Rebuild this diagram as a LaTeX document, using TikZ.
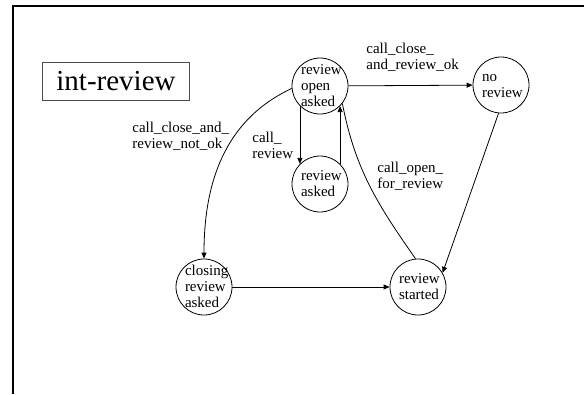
\documentclass[tikz,border=0pt]{standalone}
\usepackage{fontspec}
\setmainfont{Liberation Serif}
\usetikzlibrary{arrows.meta}
\newcommand{\statelbl}[1]{\makebox[0pt][l]{\hspace*{-19bp}\raisebox{-5bp}[0pt][0pt]{\begin{tabular}[c]{@{}l@{}}#1\end{tabular}}}}
\begin{document}
\begin{tikzpicture}[x=1bp,y=1bp,color=black,every path/.append style={line width=0.8bp},
  state/.style={draw,circle,inner sep=0pt,minimum size=56bp,font=\fontsize{15bp}{16bp}\selectfont},
  lbl/.style={inner sep=0pt,anchor=north west,align=left,font=\fontsize{15bp}{16bp}\selectfont},
  >={Triangle[length=6bp,width=5bp]}]
\useasboundingbox (0,0) rectangle (584,-394);
\draw[line width=2bp] (13,-394) -- (13,-6) -- (584,-6);
\node(T) [draw=black!70,minimum width=147bp,minimum height=38bp,inner sep=0pt,font=\fontsize{29bp}{32bp}\selectfont] at (116,-81) {int-review};

\node(RO) [state] at (320,-86) {\statelbl{review\\open\\asked}};
\node(NR) [state] at (501,-85) {\statelbl{no\\review}};
\node(RA) [state] at (320,-184) {\statelbl{review\\asked}};
\node(CR) [state] at (204,-287) {\statelbl{closing\\review\\asked}};
\node(RS) [state] at (418,-287) {\statelbl{review\\started}};

\draw[->] (RO) -- (NR);
\draw[->] (RO.185) to[out=205,in=90] (CR.north);
\draw[->] (RO.225) -- (RA.135);
\draw[->] (RA.45) -- (RO.-45);
\draw (RS.95) to[out=125,in=-79] (RO.-38);
\draw[->] (NR.265) -- (RS.30);
\draw[->] (CR) -- (RS);

\node(L1) [lbl] at (366,-42.5) {call\_close\_\\and\_review\_ok};
\node(L2) [lbl] at (132,-121.5) {call\_close\_and\_\\review\_not\_ok};
\node(L3) [lbl] at (252,-131.5) {call\_\\review};
\node(L4) [lbl] at (377,-161.5) {call\_open\_\\for\_review};
\end{tikzpicture}
\end{document}
